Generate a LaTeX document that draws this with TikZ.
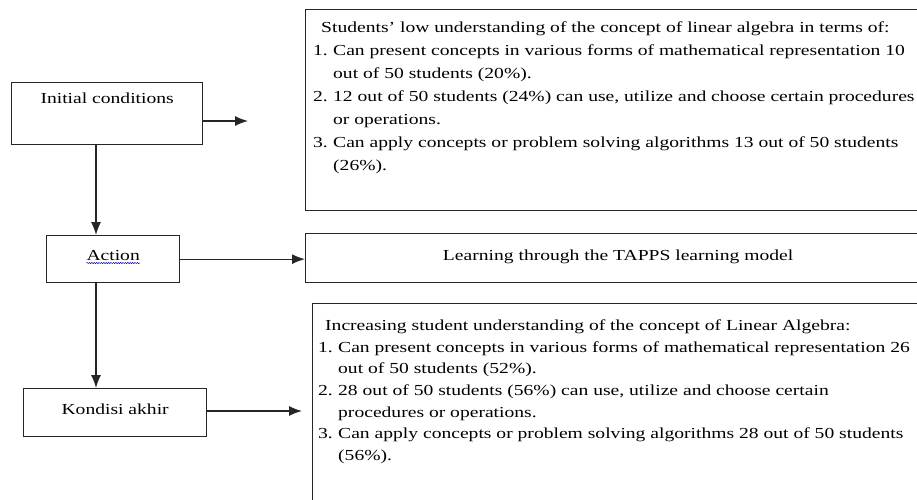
\documentclass[tikz,border=0pt]{standalone}
\usepackage{fontspec}
\setmainfont[FakeStretch=1.28]{Liberation Serif}
\usetikzlibrary{arrows.meta,decorations.pathmorphing}

\newcommand{\itemno}[1]{\makebox[20pt][l]{#1}}
\newcommand{\hangin}{\hspace*{20pt}}

\tikzset{
  box/.style={draw=black!85, line width=1.3pt, rectangle, inner sep=0pt, anchor=north west},
  lbl/.style={inner sep=0pt, font=\fontsize{15.3}{18}\selectfont, text=black},
  listtext/.style={inner sep=0pt, anchor=north west, align=left, text=black},
  arr/.style={draw=black!85, line width=1.3pt, -{Latex[length=13pt,width=10pt]}},
  spell/.style={blue!70!black, line width=0.5pt, decorate,
    decoration={snake, amplitude=0.6pt, segment length=2.4pt}}
}

\begin{document}
\begin{tikzpicture}[x=1pt, y=-1pt]
            \useasboundingbox (0,0) rectangle (917,499);
            \clip (0,0) rectangle (917,499);

            % left column
            \node[box, minimum width=191pt, minimum height=62pt] (init) at (11,82) {};
            \node[lbl, anchor=base] (initlbl) at ([yshift=-21pt]init.north) {Initial conditions};

            \node[box, minimum width=133pt, minimum height=47pt] (action) at (46,235) {};
            \node[lbl, anchor=base] (actionlbl) at ([yshift=-25pt]action.north) {Action};
            \draw[spell] ([yshift=-3pt]actionlbl.base west) -- ([yshift=-3pt]actionlbl.base east);

            \node[box, minimum width=183pt, minimum height=48pt] (kondisi) at (23,388) {};
            \node[lbl, anchor=base] (kondisilbl) at ([yshift=-26pt]kondisi.north) {Kondisi akhir};

            \coordinate (spine) at (96,0);
            \draw[arr] (init.south -| spine) -- (action.north -| spine);
            \draw[arr] (action.south -| spine) -- (kondisi.north -| spine);

            % right column
            \node[box, minimum width=625pt, minimum height=201pt] (low) at (305,9) {};
            \node[listtext, font=\fontsize{15.3}{23}\selectfont] (lowtxt) at (313,21.5) {%
              \hspace*{8pt}Students' low understanding of the concept of linear algebra in terms of:\\
              \itemno{1.}Can present concepts in various forms of mathematical representation 10\\
              \hangin out of 50 students (20\%).\\
              \itemno{2.}12 out of 50 students (24\%) can use, utilize and choose certain procedures\\
              \hangin or operations.\\
              \itemno{3.}Can apply concepts or problem solving algorithms 13 out of 50 students\\
              \hangin (26\%).};

            \node[box, minimum width=625pt, minimum height=49pt] (tapps) at (305,233) {};
            \node[lbl, anchor=base] (tappslbl) at ([yshift=-27pt]tapps.north) {Learning through the TAPPS learning model};

            \node[box, minimum width=620pt, minimum height=230pt] (high) at (312,303) {};
            \node[listtext, font=\fontsize{15.3}{21.7}\selectfont] (hightxt) at (318,319.5) {%
              \hspace*{7pt}Increasing student understanding of the concept of Linear Algebra:\\
              \itemno{1.}Can present concepts in various forms of mathematical representation 26\\
              \hangin out of 50 students (52\%).\\
              \itemno{2.}28 out of 50 students (56\%) can use, utilize and choose certain\\
              \hangin procedures or operations.\\
              \itemno{3.}Can apply concepts or problem solving algorithms 28 out of 50 students\\
              \hangin (56\%).};

            \coordinate (initend) at (248,121);
            \coordinate (kondend) at (302,411);
            \draw[arr] (init.east |- initend) -- (initend);
            \draw[arr] (action.east) -- (action.east -| tapps.west);
            \draw[arr] (kondisi.east |- kondend) -- (kondend);
        \end{tikzpicture}
\end{document}
